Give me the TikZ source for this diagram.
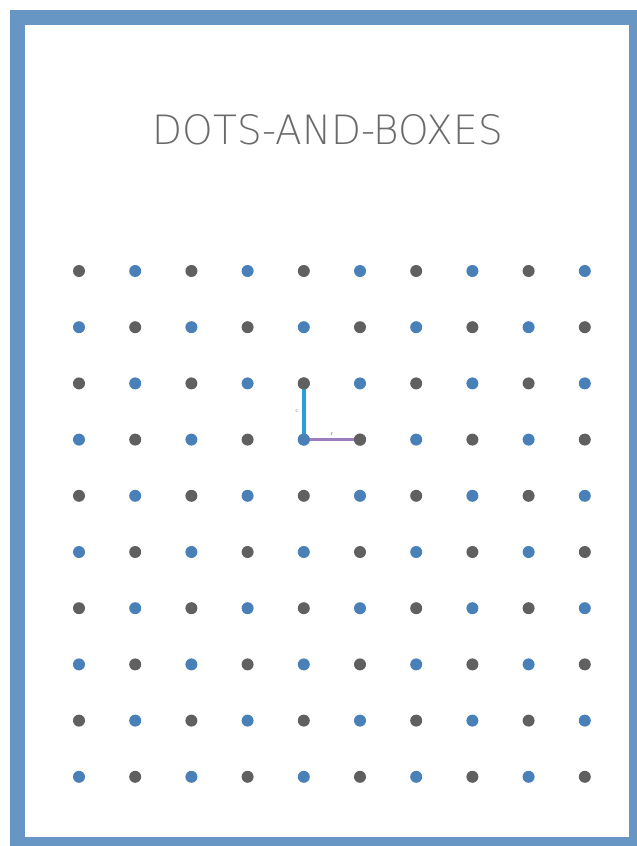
\documentclass[tikz,border=0pt]{standalone}
\usepackage{tikz}
\usepackage{fontspec}
\usetikzlibrary{positioning}
\newfontfamily\titlefont{DejaVu Sans ExtraLight}
\definecolor{BoardFrame}{HTML}{6896C4}
\definecolor{DotGrey}{HTML}{606060}
\definecolor{DotBlue}{HTML}{4A80B8}
\definecolor{EdgeBlue}{HTML}{2A9ED8}
\definecolor{EdgePurple}{HTML}{9C7DBE}
\definecolor{TitleGrey}{HTML}{6A6A6A}

\begin{document}
\begin{tikzpicture}[x=1pt,y=-1pt]
    \tikzset{dot/.style={circle,inner sep=0pt,minimum size=12pt},
      edge/.style={line width=#1,line cap=round},
      tag/.style={font=\fontsize{6}{6}\selectfont,text=TitleGrey,inner sep=0pt}}
    \clip (0,0) rectangle (637,846);
    \useasboundingbox (0,0) rectangle (637,846);
    \draw[BoardFrame,line width=15pt] (17.5,17.5) rectangle (636.5,844.5);
    \node[text=TitleGrey] (title) at (328,130) {\resizebox{350pt}{30pt}{\titlefont DOTS-AND-BOXES}};
    % board of dots
    \foreach \i in {0,...,9}
      \foreach \j in {0,...,9} {
        \pgfmathtruncatemacro{\parity}{mod(\i+\j,2)}
        \ifnum\parity=0 \def\dotcol{DotGrey}\else\def\dotcol{DotBlue}\fi
        \node[dot,fill=\dotcol] (d-\i-\j) at (79+56.2*\i,271+56.2*\j) {};
      }
    % moves played
    \draw[edge=4.5pt,EdgeBlue] (d-4-2.center) -- (d-4-3.center) node[tag,midway,left=3pt] {c};
    \draw[edge=3pt,EdgePurple] (d-4-3.center) -- (d-5-3.center) node[tag,midway,above=3pt] {r};
    \node[dot,fill=DotGrey] at (d-4-2) {};
    \node[dot,fill=DotBlue] at (d-4-3) {};
    \node[dot,fill=DotGrey] at (d-5-3) {};
  \end{tikzpicture}
\end{document}
